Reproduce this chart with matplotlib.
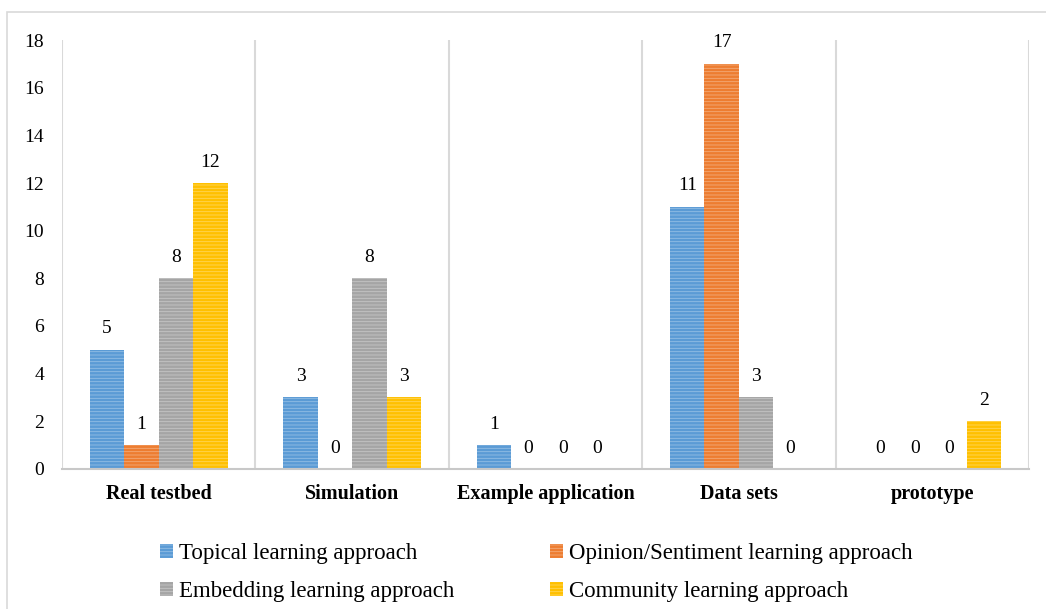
import numpy as np
import matplotlib.pyplot as plt
from matplotlib.patches import Rectangle
from matplotlib.colors import to_rgb

plt.rcParams['font.family'] = ['Liberation Serif', 'DejaVu Serif']
plt.rcParams['hatch.linewidth'] = 0.6

categories = ['Real testbed', 'Simulation', 'Example application', 'Data sets', 'prototype']
series = ['Topical learning approach', 'Opinion/Sentiment learning approach',
          'Embedding learning approach', 'Community learning approach']
topical = [5, 3, 1, 11, 0]
opinion = [1, 0, 0, 17, 0]
embedding = [8, 8, 0, 3, 0]
community = [12, 3, 0, 0, 2]
colors = ['#5B9BD5', '#ED7D31', '#A5A5A5', '#FFC000']


def lighter(c, f=0.35):
    r, g, b = to_rgb(c)
    return (r + (1 - r) * f, g + (1 - g) * f, b + (1 - b) * f)


fig = plt.figure(figsize=(10.46, 6.09), dpi=100)
ax = fig.add_axes([0.0593, 0.2299, 0.9244, 0.7044])

# thin frame around the whole chart
fig.patches.append(Rectangle((7 / 1046, -0.02), 1.0, 1 - 12 / 609 + 0.02,
                             transform=fig.transFigure, fill=False,
                             edgecolor='#d9d9d9', linewidth=1.2))

x = np.arange(len(categories))
w = 0.178
values = [topical, opinion, embedding, community]
handles = []
for i, (vals, name, c) in enumerate(zip(values, series, colors)):
    pos = x + (i - 1.5) * w
    bars = ax.bar(pos, vals, w, color=c, edgecolor=lighter(c), linewidth=0,
                  hatch='-----', label=name)
    handles.append(bars)
    for xp, v in zip(pos, vals):
        ax.text(xp, v + 0.88, str(v), ha='center', va='center', fontsize=14)

ax.set_xlim(-0.5, len(categories) - 0.5)
ax.set_ylim(0, 18)
ax.set_yticks(range(0, 19, 2))
ax.tick_params(axis='y', length=0, labelsize=14, pad=13)
ax.tick_params(axis='x', length=0, pad=11)
ax.set_xticks(x)
ax.set_xticklabels(categories, fontsize=14.5, fontweight='bold')

# category separators
for b in np.arange(-0.5, len(categories), 1.0):
    ax.axvline(b, color='#d9d9d9', linewidth=1.5, zorder=0)

for s in ['top', 'right', 'left']:
    ax.spines[s].set_visible(False)
ax.spines['bottom'].set_color('#c8c8c8')
ax.spines['bottom'].set_linewidth(1.5)

# legend filled row by row: Topical / Opinion, then Embedding / Community
order = [0, 2, 1, 3]
fig.legend([handles[k] for k in order], [series[k] for k in order],
           loc='lower left', bbox_to_anchor=(0.1335, -0.023), ncol=2, frameon=False,
           fontsize=16.5, handlelength=0.55, handleheight=0.55, handletextpad=0.25,
           columnspacing=4.2, labelspacing=0.75)

fig.savefig('out.png', dpi=100)
